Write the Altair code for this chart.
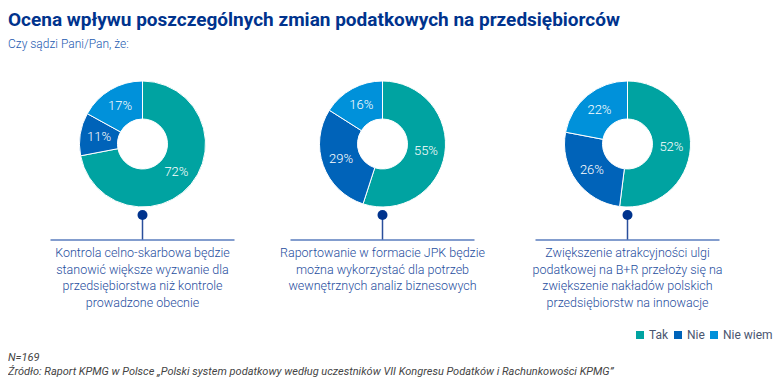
import math
import altair as alt
import pandas as pd

TITLE = "Ocena wpływu poszczególnych zmian podatkowych na przedsiębiorców"
SUBTITLE = "Czy sądzi Pani/Pan, że:"
QUESTIONS = [
    "Kontrola celno-skarbowa będzie\nstanowić większe wyzwanie dla\nprzedsiębiorstwa niż kontrole\nprowadzone obecnie",
    "Raportowanie w formacie JPK będzie\nmożna wykorzystać dla potrzeb\nwewnętrznych analiz biznesowych",
    "Zwiększenie atrakcyjności ulgi\npodatkowej na B+R przełoży się na\nzwiększenie nakładów polskich\nprzedsiębiorstw na innowacje",
]
CATEGORIES = ["Tak", "Nie", "Nie wiem"]
TAK = [72, 55, 52]
NIE = [11, 29, 26]
NIE_WIEM = [17, 16, 22]
COLORS = ["#00A3A1", "#0063B9", "#0091DA"]
NOTE_N = "N=169"
SOURCE = ("Źródło: Raport KPMG w Polsce „Polski system podatkowy według uczestników "
          "VII Kongresu Podatków i Rachunkowości KPMG”")

rows = []
for qi in range(len(QUESTIONS)):
    for ki, (cat, vals) in enumerate(zip(CATEGORIES, [TAK, NIE, NIE_WIEM])):
        rows.append({"qi": qi, "k": ki, "cat": cat, "v": vals[qi]})
df = pd.DataFrame(rows)
qdf = pd.DataFrame({"qi": list(range(len(QUESTIONS))), "q": QUESTIONS})

W, H = 766, 370
CY = 136
xs = alt.Scale(domain=[0, 1, 2], range=[134.5, 374.5, 619.5], zero=False, nice=False)
X = alt.X("qi:Q", scale=xs, axis=None, stack=False)
theta_scale = alt.Scale(domain=[0, 100], range=[0, 2 * math.pi])

base = alt.Chart(df).transform_stack(
    stack="v", groupby=["qi"], as_=["s0", "s1"],
    sort=[alt.SortField("k", order="ascending")]
)

arcs = base.mark_arc(innerRadius=25, outerRadius=63, stroke="white", strokeWidth=1).encode(
    x=X,
    y=alt.value(CY),
    theta=alt.Theta("s0:Q", scale=theta_scale, stack=False),
    theta2="s1:Q",
    color=alt.Color(
        "cat:N",
        scale=alt.Scale(domain=CATEGORIES, range=COLORS),
        title=None,
        legend=alt.Legend(
            orient="none", legendX=626, legendY=321, direction="horizontal",
            symbolType="square", symbolSize=64, symbolStrokeWidth=0,
            labelFontSize=12, labelFont="Roboto", labelColor="#4A5670",
            labelOffset=3, columnPadding=3, padding=0,
        ),
    ),
)

labels = base.transform_calculate(
    mid="(datum.s0 + datum.s1) / 2", lbl="datum.v + '%'"
).mark_text(radius=44, color="white", fontSize=13, font="Roboto", fontWeight=300).encode(
    x=X,
    y=alt.value(CY),
    theta=alt.Theta("mid:Q", scale=theta_scale, stack=False),
    text="lbl:N",
)

stem = alt.Chart(qdf).mark_rule(color="#2A4F9C", strokeWidth=1.5).encode(
    x=X, y=alt.value(207), y2=alt.value(232)
)
hline = alt.Chart(qdf).mark_rule(color="#5A7DBE", strokeWidth=1.3, xOffset=-92, x2Offset=92).encode(
    x=X, x2="qi:Q", y=alt.value(232)
)
pins = alt.Chart(qdf).mark_point(filled=True, size=100, color="#00338D", opacity=1).encode(
    x=X, y=alt.value(207)
)
desc = alt.Chart(qdf).mark_text(
    align="center", baseline="top", lineBreak="\n", lineHeight=16.5,
    fontSize=12.5, font="Roboto", fontWeight=300, color="#1F4E9E",
).encode(x=X, y=alt.value(239), text="q:N")


def txt(s, x, y, **kw):
    return alt.Chart(pd.DataFrame({"t": [s]})).mark_text(align="left", **kw).encode(
        x=alt.value(x), y=alt.value(y), text="t:N"
    )


title = txt(TITLE, 0, 18, baseline="alphabetic", fontSize=19, font="Roboto", fontWeight="bold", color="#00338D")
subtitle = txt(SUBTITLE, 0, 36, baseline="middle", fontSize=12, font="Roboto", fontWeight=300, color="#1E5BB0")
note = txt(NOTE_N, 0, 353, baseline="alphabetic", fontSize=11, font="Roboto", fontStyle="italic", color="#444444")
source = txt(SOURCE, 0, 367, baseline="alphabetic", fontSize=11, font="Roboto", fontStyle="italic", color="#444444")

chart = alt.layer(
    arcs, labels, stem, hline, pins, desc, title, subtitle, note, source
).properties(
    width=W, height=H, padding=0, autosize=alt.AutoSizeParams(type="none")
).configure_view(strokeWidth=0)

chart.save("out.html", embed_options={"renderer": "svg", "actions": False})
